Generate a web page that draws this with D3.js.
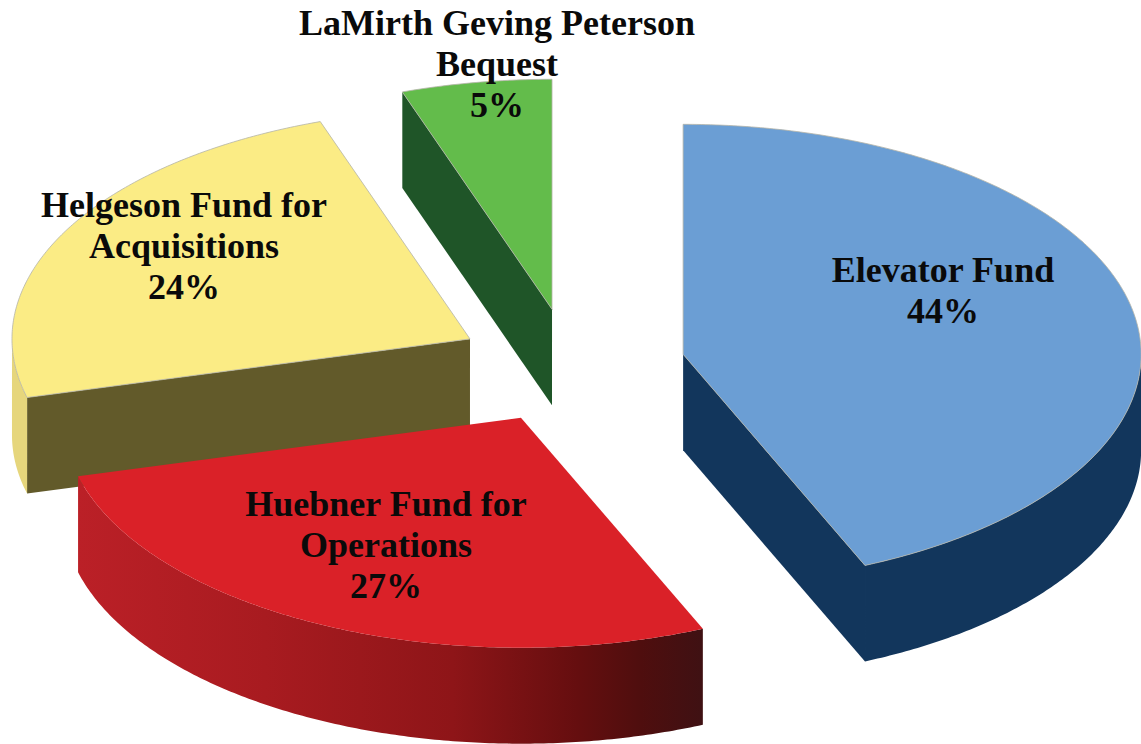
<!DOCTYPE html>
<html>
<head>
<meta charset="utf-8">
<script src="https://cdn.jsdelivr.net/npm/d3@7"></script>
<style>
  html, body { margin: 0; background: #fff; }
  svg { display: block; }
  text { font-family: "Liberation Serif", serif; font-weight: bold; fill: #0a0a0a; }
</style>
</head>
<body>
<svg id="PIE_CHART"></svg>
<script>
// values, labels round them
var names = [
  ["Elevator Fund"],
  ["Huebner Fund for", "Operations"],
  ["Helgeson Fund for", "Acquisitions"],
  ["LaMirth Geving Peterson", "Bequest"]
];
var shares = [43.5, 27.4, 23.8, 5.3];

var topColors  = ["#6b9ed4", "#da2128", "#fbec85", "#63bc4b"];
var sideColors = ["#12365c", "#7a1418", "#625a2a", "#1f5528"];
var wallColors = ["#12365c", "url(#huebnerWall)", "#e6d67c", "#1f5528"];
var drawOrder  = [2, 3, 0, 1];
var labelAt    = [[943, 282], [386, 516], [184, 217], [497, 35]];

const width = 1141, height = 744;
const CX = 571, CY = 366, RX = 458, RY = 230, DEPTH = 96, EXPLODE = 0.25;
const FONT = 36, LINE = 41;

var svg = d3.select("#PIE_CHART").attr("width", width).attr("height", height);

var grad = svg.append("defs").append("linearGradient").attr("id", "huebnerWall");
[[0, "#bb2027"], [0.3, "#a81b20"], [0.6, "#8e1518"], [0.8, "#650e0f"], [0.9, "#4f0e0e"], [1, "#3f1113"]]
  .forEach(function(s) {
    grad.append("stop").attr("offset", s[0]).attr("stop-color", s[1]);
  });

var x = d3.scaleLinear().domain([-1, 1]).range([CX - RX, CX + RX]);
var y = d3.scaleLinear().domain([-1, 1]).range([CY - RY, CY + RY]);

// p = [u, v, z], z is 0 on the top face and 1 on the bottom face
var line = d3.line()
  .x(function(p) { return x(p[0]); })
  .y(function(p) { return y(p[1]) + p[2] * DEPTH; });

var arcs = d3.pie().sort(null).value(function(d) { return d; })(shares);

function rim(a0, a1, off, z) {
  var n = Math.max(2, Math.ceil((a1 - a0) / 0.01));
  return d3.range(n + 1).map(function(i) {
    var a = a0 + (a1 - a0) * i / n;
    return [off[0] + Math.sin(a), off[1] - Math.cos(a), z];
  });
}

function cutFace(a, off) {
  var e = [off[0] + Math.sin(a), off[1] - Math.cos(a)];
  return [[off[0], off[1], 0], [e[0], e[1], 0], [e[0], e[1], 1], [off[0], off[1], 1]];
}

drawOrder.forEach(function(i) {
  var d = arcs[i];
  var mid = (d.startAngle + d.endAngle) / 2;
  var off = [EXPLODE * Math.sin(mid), -EXPLODE * Math.cos(mid)];
  var g = svg.append("g");

  // cut faces, only the ones turned to the viewer
  if (Math.sin(d.startAngle) < -0.001) {
    g.append("path").attr("d", line(cutFace(d.startAngle, off)) + "Z").attr("fill", sideColors[i]);
  }
  if (Math.sin(d.endAngle) > 0.001) {
    g.append("path").attr("d", line(cutFace(d.endAngle, off)) + "Z").attr("fill", sideColors[i]);
  }

  // outer wall
  var a0 = Math.max(d.startAngle, Math.PI / 2), a1 = Math.min(d.endAngle, Math.PI * 1.5);
  if (a1 > a0) {
    var wall = rim(a0, a1, off, 0).concat(rim(a0, a1, off, 1).reverse());
    g.append("path").attr("d", line(wall) + "Z").attr("fill", wallColors[i]);
  }

  // top face
  var top = [[off[0], off[1], 0]].concat(rim(d.startAngle, d.endAngle, off, 0));
  g.append("path")
    .attr("d", line(top) + "Z")
    .attr("fill", topColors[i])
    .attr("stroke", i == 1 ? "none" : "#b4b4a8")
    .attr("stroke-width", 0.8)
    .attr("stroke-linejoin", "round");
});

// labels
names.forEach(function(lines, i) {
  var label = svg.append("text")
    .attr("text-anchor", "middle")
    .attr("font-size", FONT);
  lines.concat(Math.round(shares[i]) + "%").forEach(function(t, k) {
    label.append("tspan")
      .attr("x", labelAt[i][0])
      .attr("y", labelAt[i][1] + k * LINE)
      .text(t);
  });
});
</script>
</body>
</html>
